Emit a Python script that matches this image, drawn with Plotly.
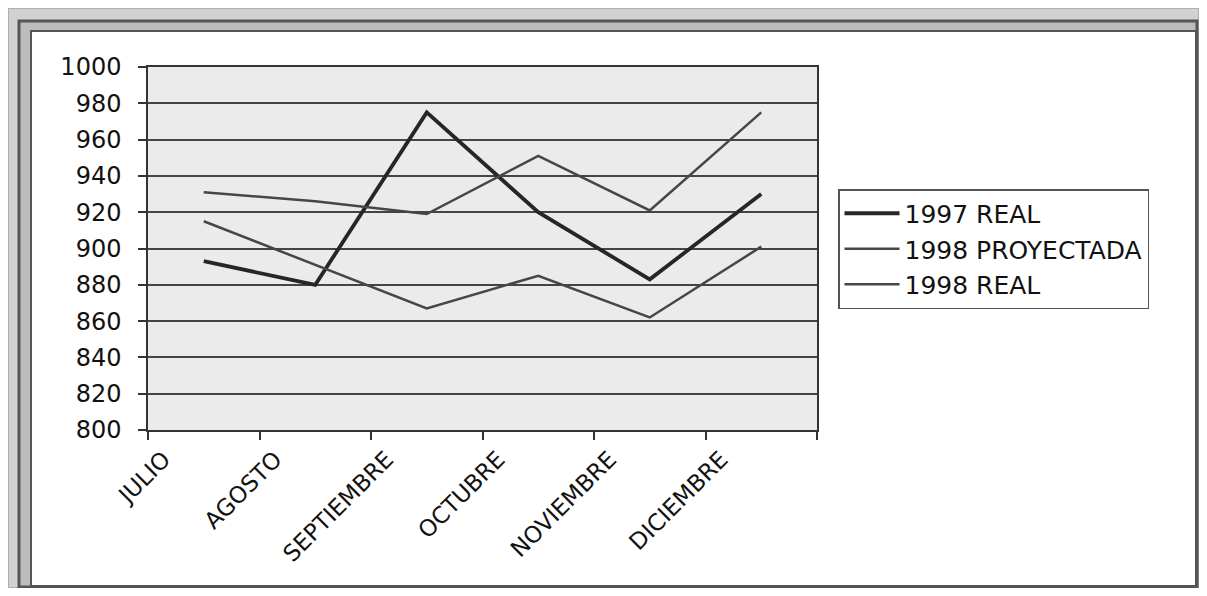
import plotly.graph_objects as go

months = ["JULIO", "AGOSTO", "SEPTIEMBRE", "OCTUBRE", "NOVIEMBRE", "DICIEMBRE"]
real_1997 = [893, 880, 975, 920, 883, 930]
proyectada_1998 = [931, 926, 919, 951, 921, 975]
real_1998 = [915, 891, 867, 885, 862, 901]
y_ticks = list(range(800, 1001, 20))

OFF = 8  # page body margin
W, H = 1207 - 2 * OFF, 596 - 2 * OFF
L, R, T, B = 148 - OFF, 817 - OFF, 67 - OFF, 430 - OFF


def px(x):
    return (x - OFF - L) / (R - L)


def py(y):
    return (B - (y - OFF)) / (B - T)


FONT = "DejaVu Sans"

fig = go.Figure()
fig.add_trace(go.Scatter(x=months, y=real_1997, mode="lines", name="1997 REAL",
                         line=dict(color="#262626", width=3.8)))
fig.add_trace(go.Scatter(x=months, y=proyectada_1998, mode="lines", name="1998 PROYECTADA",
                         line=dict(color="#464646", width=2.5)))
fig.add_trace(go.Scatter(x=months, y=real_1998, mode="lines", name="1998 REAL",
                         line=dict(color="#464646", width=2.5)))

shapes = [
    # outer gray frame
    dict(type="rect", xref="paper", yref="paper", x0=px(8), x1=px(1199), y0=py(588), y1=py(8),
         fillcolor="#d2d2d2", line=dict(color="#b0b0b0", width=2), layer="below"),
    dict(type="rect", xref="paper", yref="paper", x0=px(19), x1=px(1197), y0=py(587), y1=py(21),
         fillcolor="#bcbcbc", line=dict(color="#555555", width=3), layer="below"),
    dict(type="rect", xref="paper", yref="paper", x0=px(31), x1=px(1196), y0=py(586), y1=py(31),
         fillcolor="white", line=dict(color="#555555", width=2), layer="below"),
    # plot area background
    dict(type="rect", xref="paper", yref="paper", x0=0, x1=1, y0=0, y1=1,
         fillcolor="#ebebeb", line=dict(width=0), layer="below"),
]

fig.update_layout(
    width=W, height=H,
    margin=dict(l=L, r=W - R, t=T, b=H - B, pad=0),
    paper_bgcolor="white",
    plot_bgcolor="rgba(0,0,0,0)",
    font=dict(family=FONT, size=24, color="#111111"),
    shapes=shapes,
    showlegend=True,
    legend=dict(
        x=px(838), y=py(189), xanchor="left", yanchor="top",
        bgcolor="white", bordercolor="#555555", borderwidth=1.5,
        font=dict(family=FONT, size=25, color="#111111"),
        tracegroupgap=0, itemwidth=55,
    ),
    xaxis=dict(
        type="category", range=[-0.5, 5.5], tickson="boundaries",
        ticks="outside", ticklen=8, tickcolor="#333333", tickwidth=1.5,
        showgrid=False, zeroline=False,
        showline=True, linecolor="#333333", linewidth=1.5, mirror=True,
        tickangle=-45, ticklabelshift=-40, ticklabelstandoff=5,
        tickfont=dict(family=FONT, size=23, color="#111111"),
    ),
    yaxis=dict(
        range=[800, 1000], tickvals=y_ticks,
        ticks="outside", ticklen=8, tickcolor="#333333", tickwidth=1.5,
        showgrid=True, gridcolor="#444444", gridwidth=1.5,
        zeroline=False,
        showline=True, linecolor="#333333", linewidth=1.5, mirror=True,
        ticklabelstandoff=12,
        tickfont=dict(family=FONT, size=24, color="#111111"),
    ),
)

fig.write_html("out.html")
